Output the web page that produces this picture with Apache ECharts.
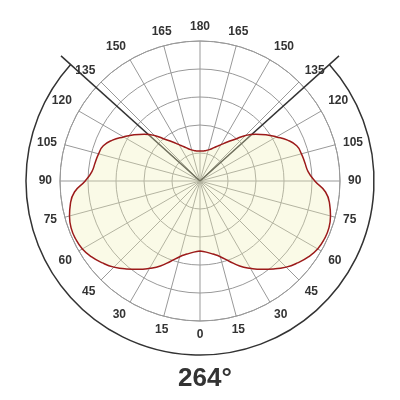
<!DOCTYPE html>
<html>
<head>
<meta charset="utf-8">
<script src="https://cdn.jsdelivr.net/npm/echarts@6/dist/echarts.min.js"></script>
<style>
  html, body { margin: 0; padding: 0; background: #fff; }
  #main { width: 400px; height: 400px; }
</style>
</head>
<body>
<div id="main"></div>
<script>
// angle from nadir (deg), one half of the symmetric curve
var angles = [0, 5, 10, 15, 20, 25, 30, 35, 40, 45, 50, 55, 60, 65, 70, 75, 80, 85, 90,
  95, 100, 105, 110, 115, 120, 125, 130, 135, 140, 145, 150, 155, 160, 165, 170, 175, 180]
// relative intensity, % of outer ring
var intensity = [50, 51, 53, 56, 61, 67, 72, 77, 82, 87, 91, 94.5, 97, 98, 98, 96.5, 94, 90, 82,
  77.5, 76, 75, 73.5, 69, 63, 57.5, 52, 46, 39, 34, 30, 27, 24.5, 23, 22, 21.5, 21.5]
var beamAngle = 264

var chart = echarts.init(document.getElementById('main'))

// build full 360 curve, mirrored
var curve = []
for (var i = 0; i < angles.length; i++) {
  curve.push([intensity[i], angles[i]])
}
for (var j = angles.length - 2; j >= 0; j--) {
  curve.push([intensity[j], 360 - angles[j]])
}

var option = {
  animation: false,
  title: {
    text: beamAngle + '°',
    left: 178,
    top: 366,
    padding: 0,
    textStyle: {
      fontFamily: 'Liberation Sans',
      fontSize: 26,
      fontWeight: 'bold',
      color: '#333'
    }
  },
  polar: {
    center: [200, 181],
    radius: 140
  },
  angleAxis: {
    type: 'value',
    min: 0,
    max: 360,
    interval: 15,
    startAngle: -90,
    axisLine: { lineStyle: { color: '#999', width: 1 } },
    axisTick: { show: false },
    axisLabel: {
      margin: 8,
      color: '#333',
      fontFamily: 'Liberation Sans',
      fontSize: 12,
      fontWeight: 'bold',
      formatter: function (v) {
        if (v >= 360) return ''
        return v > 180 ? 360 - v : v
      }
    },
    splitLine: { lineStyle: { color: '#999', width: 1 } }
  },
  radiusAxis: {
    min: 0,
    max: 100,
    interval: 20,
    axisLine: { show: false },
    axisTick: { show: false },
    axisLabel: { show: false },
    splitLine: { lineStyle: { color: '#999', width: 1 } }
  },
  series: [
    {
      type: 'line',
      coordinateSystem: 'polar',
      data: curve,
      symbol: 'none',
      smooth: true,
      lineStyle: { color: '#9c1a1a', width: 1.5 },
      areaStyle: { color: 'rgba(238,238,180,0.45)' }
    },
    {
      // beam angle marker: two lines and an arc
      type: 'custom',
      coordinateSystem: 'polar',
      data: [[0, beamAngle]],
      clip: false,
      silent: true,
      renderItem: function (params, api) {
        var half = api.value(1) / 2
        var c = api.coord([0, 0])
        var a = api.coord([124.3, 0])
        var arcR = Math.abs(a[1] - c[1])
        var p1 = api.coord([133.6, half])
        var p2 = api.coord([133.6, 360 - half])
        var st = { stroke: '#333', lineWidth: 1.5, fill: null }
        return {
          type: 'group',
          children: [
            { type: 'line', shape: { x1: c[0], y1: c[1], x2: p1[0], y2: p1[1] }, style: st },
            { type: 'line', shape: { x1: c[0], y1: c[1], x2: p2[0], y2: p2[1] }, style: st },
            {
              type: 'arc',
              shape: {
                cx: c[0], cy: c[1], r: arcR,
                startAngle: (90 - half) * Math.PI / 180,
                endAngle: (90 + half) * Math.PI / 180,
                clockwise: true
              },
              style: st
            }
          ]
        }
      }
    }
  ]
}
chart.setOption(option)
</script>
</body>
</html>
